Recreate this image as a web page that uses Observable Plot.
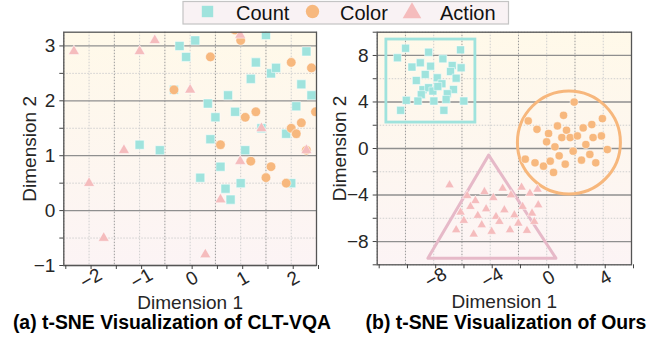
<!DOCTYPE html>
<html><head><meta charset="utf-8">
<script src="https://cdn.jsdelivr.net/npm/d3@7"></script>
<script src="https://cdn.jsdelivr.net/npm/@observablehq/plot@0.6"></script>
<style>
body{margin:0;background:#fff;font-family:"Liberation Sans",Arial,sans-serif;}
#wrap{position:relative;width:655px;height:341px;overflow:hidden;background:#fff;}
#wrap svg{position:absolute;top:0;}
</style></head><body><div id="wrap"></div>
<script>
// ---------- data ----------
const seriesNames = ["Count", "Color", "Action"];
const seriesColors = ["#9fe3dd", "#f7b87e", "#f5bcbd"];
const seriesSymbols = ["square", "circle", "triangle"];

// panel (a) CLT-VQA
const countA = [[-0.21,3.0],[0.10,3.1],[-0.08,2.8],[-0.32,2.2],[0.35,1.95],[0.5,1.7],[0.4,1.3],[0.75,2.1],[0.89,1.8],[1.09,1.1],[1.2,2.4],[1.3,2.7],[1.5,3.2],[1.6,2.5],[1.7,2.6],[1.9,1.4],[2.1,1.9],[2.2,2.3],[2.3,2.9],[2.4,2.1],[-1.0,1.2],[-0.6,1.1],[0.6,0.8],[0.2,0.6],[0.7,0.4],[1.0,0.5],[0.8,0.2],[2.0,0.5],[1.41,1.5]];
const colorA = [[-0.32,2.2],[0.4,2.8],[0.89,3.29],[1.0,3.1],[1.09,1.7],[1.3,1.8],[2.0,2.7],[2.4,2.6],[2.48,1.8],[2.0,1.5],[2.1,1.4],[2.2,1.6],[0.6,1.2],[1.2,0.9],[1.6,0.8],[2.3,1.1],[1.5,0.6],[1.9,0.5]];
const actionA = [[-2.3,2.9],[-1.0,2.9],[-0.7,3.1],[0.0,2.2],[0.99,3.2],[-1.31,1.1],[1.41,1.5],[2.3,1.1],[0.99,0.9],[-2.0,0.5],[-1.71,-0.5],[0.3,-0.8],[0.6,0.2]];

// panel (b) Ours
const countB = [[-10.57,7.8],[-9.99,8.62],[-9.54,7.0],[-8.95,7.37],[-8.36,8.28],[-8.22,7.08],[-7.35,7.71],[-6.69,7.14],[-6.10,8.48],[-6.06,6.94],[-6.81,6.62],[-6.41,6.05],[-9.23,5.85],[-8.60,6.37],[-7.75,6.08],[-7.42,5.57],[-8.76,5.06],[-8.36,5.23],[-8.06,4.94],[-7.71,5.34],[-6.60,5.08],[-7.04,4.71],[-8.88,4.63],[-9.94,4.14],[-9.12,4.08],[-7.99,4.08],[-7.12,4.22],[-5.87,4.08],[-10.34,3.28],[-7.28,3.28]];
const colorB = [[1.94,3.99],[-1.31,2.37],[1.19,2.85],[-0.69,1.65],[0.76,1.94],[1.40,1.57],[0.13,1.29],[2.58,1.77],[3.19,2.06],[3.94,2.57],[1.07,0.94],[1.66,0.94],[2.17,1.08],[3.28,0.94],[3.87,1.08],[-0.01,0.57],[0.58,0.14],[2.77,0.34],[1.87,-0.23],[4.29,-0.09],[-1.52,-0.92],[-0.83,-1.23],[-0.23,-1.52],[0.25,-1.09],[0.88,-0.63],[1.31,-1.35],[2.46,-1.0],[3.05,-0.51],[3.47,-1.23],[0.48,-2.06]];
const actionB = [[-6.88,-3.14],[-5.63,-4.06],[-4.41,-3.72],[-3.12,-3.43],[-1.78,-3.34],[-1.19,-3.86],[-0.65,-3.51],[-5.05,-4.49],[-3.78,-4.23],[-2.53,-4.0],[-5.40,-5.0],[-4.29,-5.2],[-3.0,-5.29],[-1.71,-5.0],[-0.6,-4.86],[-6.10,-5.48],[-4.88,-5.77],[-3.59,-5.86],[-2.29,-5.72],[-1.04,-5.57],[-5.87,-6.2],[-4.6,-6.57],[-3.35,-6.29],[-2.01,-6.43],[-0.88,-6.29],[-6.41,-7.0],[-5.17,-7.37],[-3.90,-7.14],[-2.60,-7.0],[-1.40,-7.06]];

// cluster outlines in panel (b)
const boxB = [{x1:-11.35, x2:-5.05, y1:2.23, y2:9.37}];
const ringB = [[1.57, 0.52]];
const triangleB = [[-4.11,-0.57],[-8.41,-9.43],[0.65,-9.43]];

// axes
const xTicksA = [-2.5,-2,-1.5,-1,-0.5,0,0.5,1,1.5,2,2.5];
const xLabelsA = [-2,-1,0,1,2];
const yTicksA = [-1,-0.5,0,0.5,1,1.5,2,2.5,3];
const yLabelsA = [-1,0,1,2,3];
const xTicksB = [-12,-10,-8,-6,-4,-2,0,2,4,6];
const xLabelsB = [-8,-4,0,4];
const yTicksB = [-10,-8,-6,-4,-2,0,2,4,6,8,10];
const yLabelsB = [-8,-4,0,4,8];
const captions = ["(a) t-SNE Visualization of CLT-VQA", "(b) t-SNE Visualization of Ours"];

// ---------- drawing ----------
const fmt = d3.format("d");
const font = "'Liberation Sans', Arial, sans-serif";

function gradDefs(id) {
  return () => {
    const defs = d3.create("svg:defs");
    const g = defs.append("linearGradient").attr("id", id)
      .attr("x1", 0).attr("y1", 0).attr("x2", 0).attr("y2", 1);
    g.append("stop").attr("offset", "0%").attr("stop-color", "#fff9e9");
    g.append("stop").attr("offset", "100%").attr("stop-color", "#fcf4f5");
    return defs.node();
  };
}

function panel(o) {
  const majX = new Set(o.xLabels), majY = new Set(o.yLabels);
  const minorX = o.xTicks.filter(d => !majX.has(d));
  const minorY = o.yTicks.filter(d => !majY.has(d));
  const dots = [o.count, o.color, o.action].map((data, i) =>
    Plot.dot(data, {x: d => d[0], y: d => d[1], symbol: seriesSymbols[i], r: o.r[i],
      fill: seriesColors[i], stroke: "white", strokeWidth: 0.5, clip: true}));
  return Plot.plot({
    width: o.width, height: 341,
    marginLeft: o.ml, marginRight: o.mr, marginTop: 31.7, marginBottom: 341 - o.bottom,
    x: {domain: o.xDomain}, y: {domain: o.yDomain},
    style: {background: "transparent", fontFamily: font, fontSize: "19px", color: "#262626", overflow: "visible"},
    marks: [
      gradDefs(o.gid),
      Plot.frame({fill: `url(#${o.gid})`, stroke: null}),
      Plot.gridX({ticks: minorX, stroke: "#9a9a9a", strokeOpacity: 1, strokeDasharray: "1.5,1.5"}),
      Plot.gridX({ticks: o.xLabels, stroke: "#cfcfcf", strokeOpacity: 1, strokeDasharray: "1.5,1.5"}),
      Plot.gridY({ticks: minorY, stroke: "#cfcfcf", strokeOpacity: 1, strokeDasharray: "1.5,1.5"}),
      Plot.gridY({ticks: o.yLabels, stroke: "#8f8f8f", strokeOpacity: 1, strokeWidth: 1.3}),
      ...(o.shapes || []),
      ...dots,
      Plot.frame({stroke: "#555", strokeWidth: 1.3}),
      Plot.axisX({ticks: o.xTicks, tickFormat: d => majX.has(d) ? fmt(d) : "", tickSize: 4,
        tickRotate: -30, textAnchor: "middle", lineAnchor: "middle", tickPadding: 9, dx: 2,
        label: "Dimension 1", labelAnchor: "center", labelArrow: "none", labelOffset: 43, stroke: "#444"}),
      Plot.axisY({ticks: o.yTicks, tickFormat: d => majY.has(d) ? fmt(d) : "", tickSize: 4,
        tickPadding: 4.5, label: "Dimension 2", labelAnchor: "center", labelArrow: "none",
        labelOffset: o.yLabelOffset, stroke: "#444"})
    ]
  });
}

const wrap = document.getElementById("wrap");

const svgA = panel({
  gid: "gA", width: 327, ml: 63.3, mr: 11, bottom: 265,
  xDomain: [-2.5, 2.5], yDomain: [-1, 3.25],
  xTicks: xTicksA, xLabels: xLabelsA, yTicks: yTicksA, yLabels: yLabelsA,
  count: countA, color: colorA, action: actionA, r: [5.1, 4.8, 4.1], yLabelOffset: 41.3
});
svgA.style.left = "0px";
wrap.appendChild(svgA);

const svgB = panel({
  gid: "gB", width: 328, ml: 49.7, mr: 24, bottom: 264.3,
  xDomain: [-12, 6], yDomain: [-10, 10],
  xTicks: xTicksB, xLabels: xLabelsB, yTicks: yTicksB, yLabels: yLabelsB,
  count: countB, color: colorB, action: actionB, r: [4.5, 4.1, 3.5], yLabelOffset: 45,
  shapes: [
    Plot.rect(boxB, {x1: "x1", x2: "x2", y1: "y1", y2: "y2", fill: "none", stroke: seriesColors[0], strokeWidth: 2.8}),
    Plot.dot(ringB, {x: d => d[0], y: d => d[1], r: 51.5, fill: "none", stroke: "#f7b77c", strokeWidth: 3}),
    Plot.line(triangleB, {x: d => d[0], y: d => d[1], curve: "linear-closed", stroke: "#e6b9c8", strokeWidth: 3})
  ]
});
svgB.style.left = "327px";
wrap.appendChild(svgB);

// legend + captions overlay
const ov = d3.select(wrap).append("svg").attr("width", 655).attr("height", 341)
  .style("left", "0px").style("font-family", font);
ov.append("rect").attr("x", 183).attr("y", 1.5).attr("width", 325.5).attr("height", 22.5)
  .attr("fill", "#f9f2f4").attr("stroke", "#c4c4c4").attr("stroke-width", 1.2);
const legX = [[207.5, 236], [312.5, 340], [412, 440]];
seriesNames.forEach((name, i) => {
  const sym = {square: d3.symbolSquare, circle: d3.symbolCircle, triangle: d3.symbolTriangle}[seriesSymbols[i]];
  const size = [130, 140, 150][i];
  ov.append("path").attr("d", d3.symbol(sym, size)()).attr("fill", seriesColors[i])
    .attr("transform", `translate(${legX[i][0]},${i === 2 ? 13 : 11.5})`);
  ov.append("text").attr("x", legX[i][1]).attr("y", 20).attr("font-size", 20).attr("fill", "#111").text(name);
});
[[172, captions[0]], [506, captions[1]]].forEach(([x, t]) => {
  ov.append("text").attr("x", x).attr("y", 329).attr("text-anchor", "middle")
    .attr("font-size", 19.4).attr("font-weight", "bold").attr("fill", "#000").text(t);
});
</script></body></html>
